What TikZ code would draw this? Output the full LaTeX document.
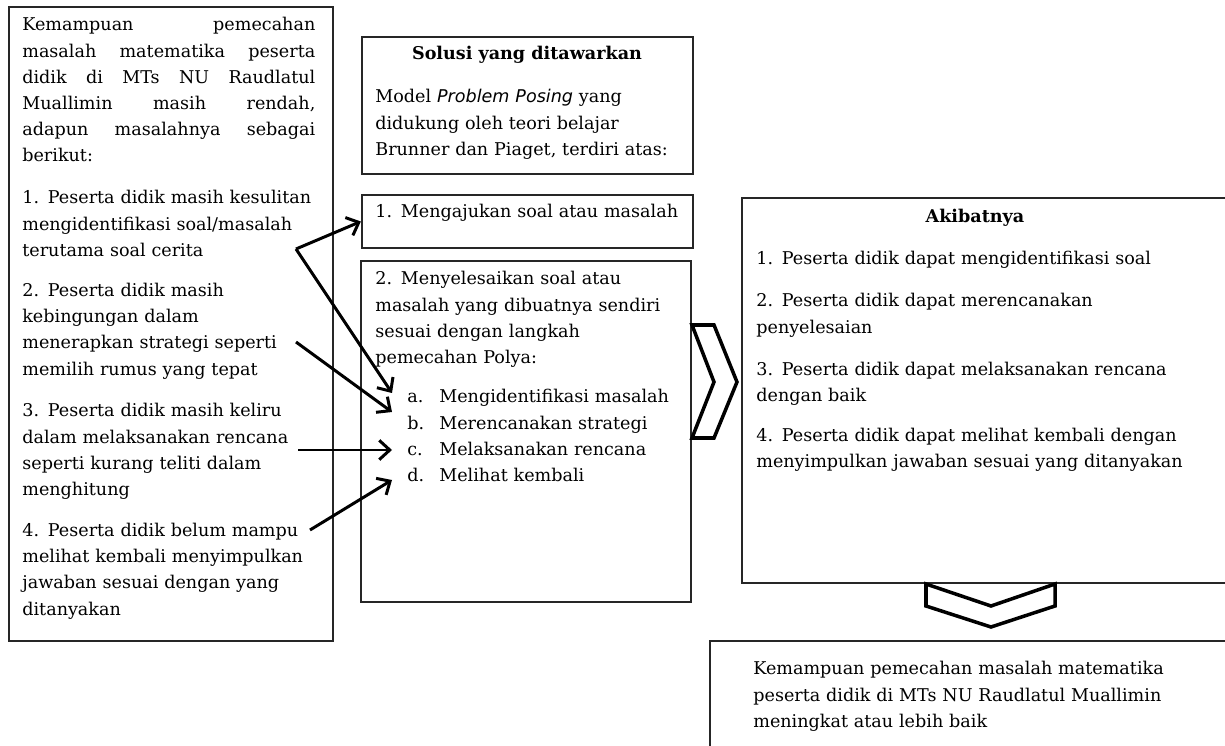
\documentclass[tikz,border=0pt]{standalone}
\usepackage{fontspec}
\setmainfont{DejaVu Serif}
\setsansfont{DejaVu Sans}
\usetikzlibrary{arrows.meta}
\newlength\px
\setlength\px{0.02cm}
\tikzset{
  box/.style={draw=black!85, line width=1.3pt, inner sep=0pt},
  txt/.style={inner sep=0pt, anchor=base west, align=left, font=\fontsize{10}{14.9}\selectfont},
  head/.style={inner sep=0pt, anchor=base, font=\fontsize{10}{14.9}\selectfont\bfseries},
  arr/.style={line width=1.7pt, -{Straight Barb[length=6pt,width=11pt]}},
  chev/.style={draw=black, fill=white, line width=2pt, line join=miter},
}
\newcommand{\jline}[1]{\makebox[293\px][s]{#1}}

\begin{document}
\begin{tikzpicture}[x=0.02cm, y=-0.02cm]
  %%%%% FRAME %%%%%
  \clip (0,0) rectangle (1225,746);
  \fill[white] (0,0) rectangle (1225,746);

  %%%%% BOXES %%%%%
  \node[box, minimum width=324\px, minimum height=634\px] (lbox) at (171,324) {};
  \node[box, minimum width=331\px, minimum height=137\px] (solusi) at (527.5,105.5) {};
  \node[box, minimum width=331\px, minimum height=53\px] (ajukan) at (527.5,221.5) {};
  \node[box, minimum width=330\px, minimum height=341\px] (selesai) at (526,431.5) {};
  \node[box, minimum width=494\px, minimum height=385\px] (akibat) at (989,390.5) {};
  \node[box, minimum width=530\px, minimum height=119\px] (hasil) at (975,700.5) {};

  %%%%% LEFT: MASALAH %%%%%
  \node[txt, text width=293\px] (masalah) at (22,31) {%
    \jline{Kemampuan\hfill pemecahan}\\
    \jline{masalah\hfill matematika\hfill peserta}\\
    \jline{didik\hfill di\hfill MTs\hfill NU\hfill Raudlatul}\\
    \jline{Muallimin\hfill masih\hfill rendah,}\\
    \jline{adapun\hfill masalahnya\hfill sebagai}\\
    berikut:\\[9pt]
    1. Peserta didik masih kesulitan\\
    mengidentifikasi soal/masalah\\
    terutama soal cerita\\[8pt]
    2. Peserta didik masih\\
    kebingungan dalam\\
    menerapkan strategi seperti\\
    memilih rumus yang tepat\\[9pt]
    3. Peserta didik masih keliru\\
    dalam melaksanakan rencana\\
    seperti kurang teliti dalam\\
    menghitung\\[8.5pt]
    4. Peserta didik belum mampu\\
    melihat kembali menyimpulkan\\
    jawaban sesuai dengan yang\\
    ditanyakan};

  %%%%% MIDDLE: SOLUSI %%%%%
  \node[head] (soltitle) at (527,60) {Solusi yang ditawarkan};
  \node[txt, text width=310\px] (soltext) at (375,103) {%
    Model \textsf{\textit{Problem Posing}} yang\\
    didukung oleh teori belajar\\
    Brunner dan Piaget, terdiri atas:};
  \node[txt, text width=310\px] (ajukantext) at (375,218) {1. Mengajukan soal atau masalah};
  \node[txt, text width=310\px] (selesaitext) at (375,285) {%
    2. Menyelesaikan soal atau\\
    masalah yang dibuatnya sendiri\\
    sesuai dengan langkah\\
    pemecahan Polya:};
  \node[txt, text width=270\px] (polya) at (407,403) {%
    \makebox[32\px][l]{a.}Mengidentifikasi masalah\\
    \makebox[32\px][l]{b.}Merencanakan strategi\\
    \makebox[32\px][l]{c.}Melaksanakan rencana\\
    \makebox[32\px][l]{d.}Melihat kembali};

  %%%%% RIGHT: AKIBAT %%%%%
  \node[head] (akibattitle) at (975,223) {Akibatnya};
  \node[txt, text width=450\px] (akibattext) at (756,265) {%
    1. Peserta didik dapat mengidentifikasi soal\\[9pt]
    2. Peserta didik dapat merencanakan\\
    penyelesaian\\[9pt]
    3. Peserta didik dapat melaksanakan rencana\\
    dengan baik\\[8pt]
    4. Peserta didik dapat melihat kembali dengan\\
    menyimpulkan jawaban sesuai yang ditanyakan};

  %%%%% BOTTOM: HASIL %%%%%
  \node[txt, text width=460\px] (hasiltext) at (753,675) {%
    Kemampuan pemecahan masalah matematika\\
    peserta didik di MTs NU Raudlatul Muallimin\\
    meningkat atau lebih baik};

  %%%%% CHEVRONS %%%%%
  \draw[chev] (692,325) -- (714,325) -- (737,382) -- (714,438) -- (692,438) -- (714,382) -- cycle;
  \draw[chev] (926,584) -- (991,606) -- (1055,584) -- (1055,606) -- (991,627) -- (926,606) -- cycle;

  %%%%% ARROWS %%%%%
  \coordinate (s1) at (296,249);
  \coordinate (s2) at (296,342);
  \coordinate (s3) at (298,450);
  \coordinate (s4) at (310,530);
  \coordinate (ta) at (392,393);
  \coordinate (tb) at (392,412);
  \coordinate (tc) at (392,450);
  \coordinate (td) at (392,480);
  \draw[arr] (s1) -- (ajukan.west);
  \draw[arr] (s1) -- (ta);
  \draw[arr] (s2) -- (tb);
  \draw[arr] (s3) -- (tc);
  \draw[arr] (s4) -- (td);
\end{tikzpicture}
\end{document}
